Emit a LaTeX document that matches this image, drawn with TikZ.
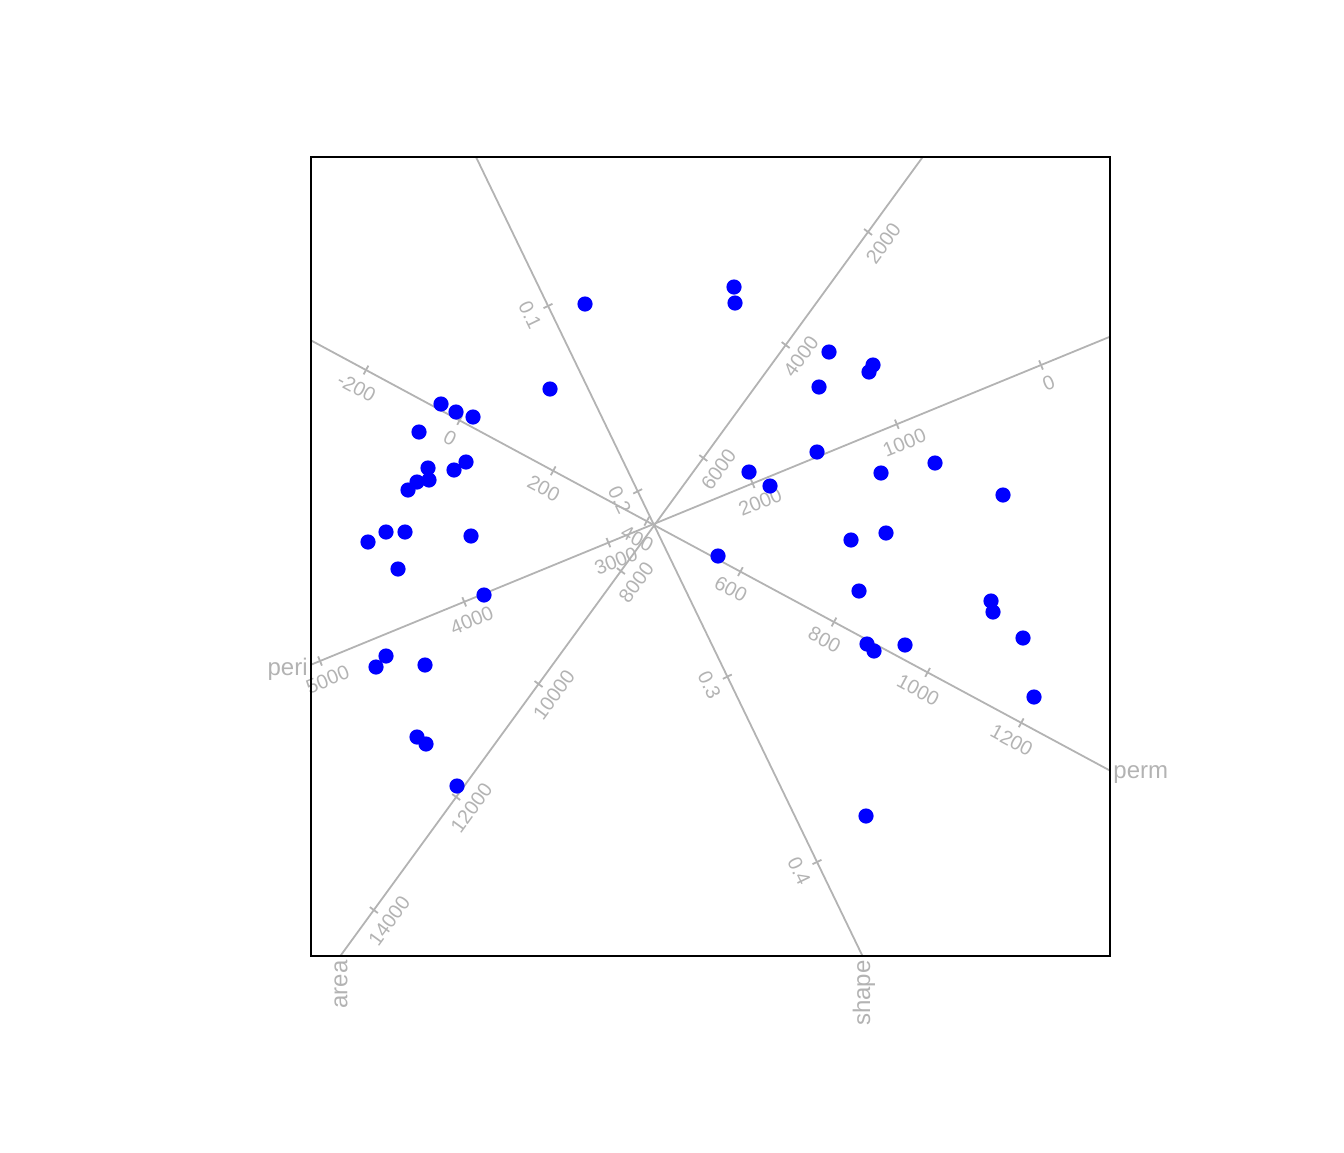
\documentclass[tikz,border=0pt]{standalone}
\usepackage{fontspec}
\setmainfont{Liberation Sans}
\usetikzlibrary{calc}
\definecolor{axgray}{RGB}{179,179,179}
\definecolor{ptblue}{RGB}{0,0,255}
\begin{document}
\begin{tikzpicture}[x=0.5pt,y=-0.5pt,
  axline/.style={draw=axgray,line width=0.9pt},
  tickmark/.style={draw=axgray,line width=0.9pt},
  ticklab/.style={text=axgray,font=\fontsize{10}{12}\selectfont,inner sep=0pt},
  axlab/.style={text=axgray,font=\fontsize{12}{14}\selectfont,inner sep=0pt},
  dot/.style={circle,fill=ptblue,inner sep=0pt,minimum size=7.6pt},
  frame/.style={draw=black,line width=1pt}]
\useasboundingbox (0,0) rectangle (1344,1152);
% axes
\coordinate (permA) at (311,340.4); \coordinate (permB) at (1110,770.6);
\coordinate (periA) at (311,664.7); \coordinate (periB) at (1110,336.7);
\coordinate (areaA) at (340.3,956); \coordinate (areaB) at (922.7,157);
\coordinate (shapeA) at (476,157); \coordinate (shapeB) at (862.5,956);
\draw[axline] (permA) -- (permB);
\draw[axline] (periA) -- (periB);
\draw[axline] (areaA) -- (areaB);
\draw[axline] (shapeA) -- (shapeB);
% perm ticks
\foreach \v in {-200,0,...,1200}{
  \coordinate (pt) at ({459.6+0.468*\v},{420.4+0.252*\v});
  \draw[tickmark] ($(pt)+(-2.4,4.4)$) -- ($(pt)+(2.4,-4.4)$);
  \node[ticklab,rotate=-28.3] (perm\v) at ($(pt)+(-9.5,17.6)$) {\v};
}
% peri ticks
\foreach \v in {0,1000,...,5000}{
  \coordinate (pt) at ({1041-0.1442*\v},{365+0.0592*\v});
  \draw[tickmark] ($(pt)+(1.9,4.6)$) -- ($(pt)+(-1.9,-4.6)$);
  \node[ticklab,rotate=22.3] (peri\v) at ($(pt)+(7.6,18.5)$) {\v};
}
% area ticks
\foreach \v in {2000,4000,...,14000}{
  \coordinate (pt) at ({950.4-0.04118*\v},{119+0.0565*\v});
  \draw[tickmark] ($(pt)+(4.0,3.0)$) -- ($(pt)+(-4.0,-3.0)$);
  \node[ticklab,rotate=53.9] (area\v) at ($(pt)+(15.3,11.2)$) {\v};
}
% shape ticks
\foreach \i/\t in {0/0.1,1/0.2,2/0.3,3/0.4}{
  \coordinate (pt) at ({548+89.67*\i},{306+185.33*\i});
  \draw[tickmark] ($(pt)+(4.5,-2.2)$) -- ($(pt)+(-4.5,2.2)$);
  \node[ticklab,rotate=-64.2] (shape\i) at ($(pt)+(-18,8.7)$) {\t};
}
% axis labels
\node[axlab,anchor=west] (permlab) at (1113,775) {perm};
\node[axlab,anchor=east] (perilab) at (308,669) {peri};
\node[axlab,rotate=90,anchor=east] (arealab) at (341,960) {area};
\node[axlab,rotate=90,anchor=east] (shapelab) at (864,960) {shape};
% points
\foreach \n/\x/\y in {1/734/287,2/735/303,3/585/304,4/829/352,5/873/365,6/869/372,
  7/819/387,8/550/389,9/441/404,10/456/412,11/473/417,12/419/432,13/817/452,
  14/935/463,15/466/462,16/428/468,17/454/470,18/749/472,19/881/473,20/417/482,
  21/429/480,22/408/490,23/770/486,24/1003/495,25/886/533,26/386/532,27/405/532,
  28/471/536,29/851/540,30/368/542,31/718/556,32/398/569,33/859/591,34/484/595,
  35/991/601,36/993/612,37/1023/638,38/867/644,39/905/645,40/874/651,41/386/656,
  42/425/665,43/376/667,44/1034/697,45/417/737,46/426/744,47/457/786,48/866/816}{
  \node[dot] (d\n) at (\x,\y) {};
}
% frame
\draw[frame] (311,157) rectangle (1110,956);
\end{tikzpicture}
\end{document}
